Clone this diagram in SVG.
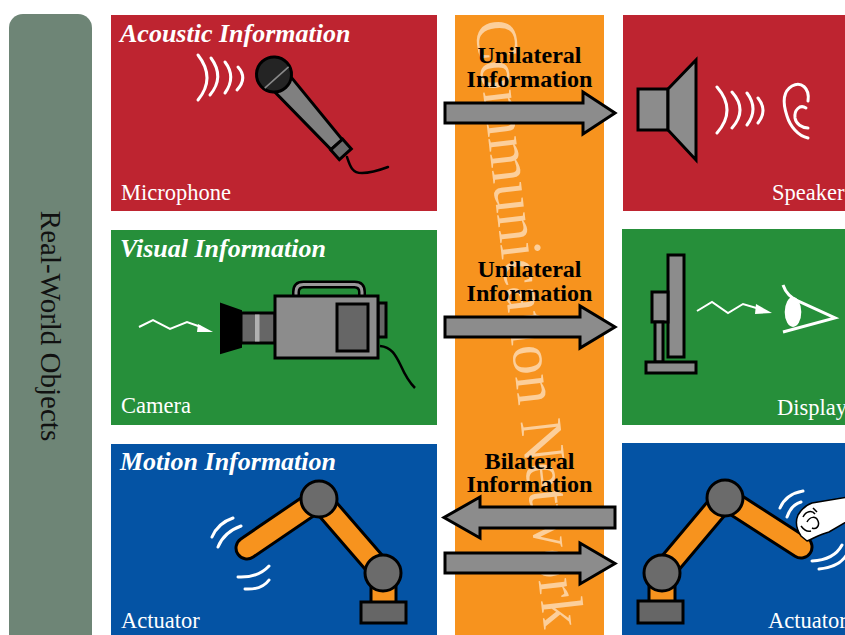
<svg xmlns="http://www.w3.org/2000/svg" width="845" height="635" viewBox="0 0 845 635">
  <style>
    .title { font-family: "Liberation Serif", "Times New Roman", serif; font-size: 26px; font-weight: bold; font-style: italic; fill: #ffffff; }
    .name { font-family: "Liberation Serif", "Times New Roman", serif; font-size: 22.5px; fill: #ffffff; }
    .info { font-family: "Liberation Serif", "Times New Roman", serif; font-size: 23px; font-weight: bold; fill: #000000; text-anchor: middle; }
    .red { fill: #be2430; }
    .green { fill: #268f3a; }
    .blue { fill: #0453a4; }
    .part { stroke: #000000; stroke-width: 3; stroke-linejoin: miter; }
    .wave { fill: none; stroke: #ffffff; stroke-width: 3; stroke-linecap: round; }
    .arrow { fill: #8c8c8c; stroke: #000000; stroke-width: 3; stroke-linejoin: miter; }
    .joint { fill: #6b6b6b; stroke: #000000; stroke-width: 3; }
    .linkOut { stroke: #000000; stroke-width: 25; stroke-linecap: round; fill: none; }
    .linkIn { stroke: #f7931e; stroke-width: 19; stroke-linecap: round; fill: none; }
  </style>

  <rect width="845" height="635" fill="#ffffff"/>

  <!-- side bar -->
  <g id="real-world-objects">
    <rect x="9" y="14" width="83" height="640" rx="14" ry="14" fill="#6e8576"/>
    <text transform="translate(41,326) rotate(90)" text-anchor="middle" font-family="Liberation Serif, Times New Roman, serif" font-size="29" fill="#111111">Real-World Objects</text>
  </g>

  <!-- network column -->
  <g id="communication-network">
    <rect x="455" y="15" width="149" height="625" fill="#f7931e"/>
    <text transform="translate(475,22) rotate(83.5)" font-family="Liberation Serif, Times New Roman, serif" font-size="60" fill="#fccf9b">Communication Network</text>
  </g>

  <!-- microphone -->
  <g id="microphone">
    <rect x="111" y="15" width="326" height="196" class="red"/>
    <text x="120" y="42" class="title">Acoustic Information</text>
    <text x="121" y="200" class="name">Microphone</text>
    <path class="wave" d="M198,100 Q216,78 198,55 M210,95 Q225,77 211,58 M225,93 Q236.5,77 225,62 M237,90 Q248,78 238,67"/>
    <path d="M347,157 C350,166 352,173 362,173 C372,173 380,170 388,167" fill="none" stroke="#000000" stroke-width="2.5" stroke-linecap="round"/>
    <g transform="translate(274,74.5) rotate(48.2)">
      <polygon class="part" points="14,-11 94,-7.5 94,7.5 14,11" fill="#808080" stroke-width="2.5"/>
      <rect class="part" x="94" y="-8" width="13" height="16" fill="#6b6b6b" stroke-width="2.5"/>
      <circle class="part" cx="0" cy="0" r="17.5" fill="#242424" stroke-width="2.5"/>
      <line x1="4" y1="-16" x2="4" y2="16" stroke="#8a8a8a" stroke-width="1.5"/>
    </g>
  </g>

  <!-- speaker -->
  <g id="speaker">
    <rect x="623" y="15" width="230" height="196" class="red"/>
    <text x="772" y="200" class="name">Speaker</text>
    <rect class="part" x="638" y="89" width="30" height="41" fill="#8c8c8c"/>
    <polygon class="part" points="668,89 696,60 696,160 668,130" fill="#8c8c8c"/>
    <path class="wave" d="M717,133 Q737,110 717,87 M732,128 Q748,110 732,92 M747,125 Q759,109 747,93 M758,123 Q768,110.5 758,98"/>
    <path class="wave" d="M808,138 C798,136 790,126 787,116 C783,104 782,92 792,86 C801,81 810,88 808,101"/>
    <path class="wave" d="M806,108 C800,104 794,110 795,118 C796,124 802,128 808,128"/>
  </g>

  <!-- camera -->
  <g id="camera">
    <rect x="111" y="230" width="326" height="195" class="green"/>
    <text x="120" y="257" class="title">Visual Information</text>
    <text x="121" y="413" class="name">Camera</text>
    <polyline points="139,327 153,320 170,329 187,322 201,327" fill="none" stroke="#ffffff" stroke-width="2"/>
    <polygon points="198,324 197,332 213,332" fill="#ffffff"/>
    <path d="M380,346 C392,347 396,356 401,366 C405,375 409,382 415,388" fill="none" stroke="#000000" stroke-width="2.5"/>
    <path d="M296,297 V292 Q296,284.5 303.5,284.5 H354.5 Q362,284.5 362,292 V297" fill="none" stroke="#000000" stroke-width="8"/>
    <path d="M296,297 V292 Q296,284.5 303.5,284.5 H354.5 Q362,284.5 362,292 V297" fill="none" stroke="#9a9a9a" stroke-width="3"/>
    <polygon points="221,304 241,311 241,347 221,353" fill="#000000" stroke="#000000" stroke-width="2"/>
    <rect class="part" x="241" y="313" width="34" height="30" fill="#666666" stroke-width="2.5"/>
    <rect x="255" y="314.5" width="4.5" height="27" fill="#b0b0b0"/>
    <rect class="part" x="378" y="303" width="8" height="34" fill="#666666" stroke-width="2.5"/>
    <rect class="part" x="275" y="296" width="103" height="62" fill="#8c8c8c"/>
    <rect class="part" x="337" y="304" width="31" height="47" fill="#666666" stroke-width="2.5"/>
  </g>

  <!-- display -->
  <g id="display">
    <rect x="622" y="229" width="230" height="196" class="green"/>
    <text x="777" y="415" class="name">Display</text>
    <rect class="part" x="668" y="255" width="16" height="102" fill="#8c8c8c"/>
    <rect class="part" x="652" y="292" width="16" height="30" fill="#8c8c8c"/>
    <rect class="part" x="655" y="322" width="8" height="40" fill="#8c8c8c"/>
    <rect class="part" x="646" y="362" width="50" height="11" fill="#8c8c8c"/>
    <polyline points="697,311 712,302 728,313 743,304 758,308.5" fill="none" stroke="#ffffff" stroke-width="2"/>
    <polygon points="756,304 755,314 772,313" fill="#ffffff"/>
    <ellipse cx="793" cy="312" rx="8.3" ry="15" fill="#ffffff"/>
    <path d="M783,285 Q787,297 800,302 L835,318 L783,332" fill="none" stroke="#ffffff" stroke-width="3"/>
  </g>

  <!-- local actuator -->
  <g id="actuator-local">
    <rect x="111" y="444" width="326" height="196" class="blue"/>
    <text x="120" y="470" class="title">Motion Information</text>
    <text x="121" y="628" class="name">Actuator</text>
    <path class="wave" d="M212,537 Q218,523 233,518 M218,547 Q224,532 241,526 M238,577 Q258,578 269,566 M245,589 Q262,590 269,580"/>
    <rect class="part" x="371" y="575" width="25" height="28" fill="#f7931e"/>
    <rect class="part" x="361" y="602" width="45" height="21" fill="#666666"/>
    <path class="linkOut" d="M247,548 L319,499 L383,573"/>
    <path class="linkIn" d="M247,548 L319,499 L383,573"/>
    <circle class="joint" cx="319" cy="499" r="18"/>
    <circle class="joint" cx="383" cy="573" r="18"/>
  </g>

  <!-- remote actuator -->
  <g id="actuator-remote">
    <rect x="622" y="443" width="230" height="197" class="blue"/>
    <text x="768" y="628" class="name">Actuator</text>
    <rect class="part" x="649" y="575" width="26" height="28" fill="#f7931e"/>
    <rect class="part" x="638" y="601" width="45" height="22" fill="#666666"/>
    <path class="linkOut" d="M662,573 L725,498 L801,547"/>
    <path class="linkIn" d="M662,573 L725,498 L801,547"/>
    <circle class="joint" cx="725" cy="498" r="18"/>
    <circle class="joint" cx="662" cy="573" r="18"/>
    <path class="wave" d="M780,508 Q786,494 803,491 M787,517 Q791,505 801,502 M812,561 Q834,560 842,545 M819,569 Q840,567 847,554"/>
    <path d="M848,497 L812,503 C806,505 801,510 798,515 C795,522 797,530 801,536 L807,541 C814,538 821,534 829,532 L848,521 Z" fill="#ffffff" stroke="#000000" stroke-width="1.5"/>
    <path d="M803,517 C806,511 812,510 815,514 M807,522 C810,516 816,516 818,521 C820,526 816,530 812,528 M801,526 C804,530 808,532 811,531 M813,508 L817,512" fill="none" stroke="#000000" stroke-width="1.5"/>
  </g>

  <!-- connectors -->
  <g id="connectors">
    <polygon class="arrow" points="445,103 583,103 583,92 615,113 583,134 583,123 445,123"/>
    <polygon class="arrow" points="445,317 580,317 580,306 615,327 580,348 580,337 445,337"/>
    <polygon class="arrow" points="615,507 480,507 480,497 444,517.5 480,538 480,528 615,528"/>
    <polygon class="arrow" points="445,553 580,553 580,543 615,563.5 580,584 580,573 445,573"/>
    <text x="529.5" y="63" class="info" textLength="104" lengthAdjust="spacingAndGlyphs">Unilateral</text>
    <text x="529.5" y="87" class="info" textLength="126" lengthAdjust="spacingAndGlyphs">Information</text>
    <text x="529.5" y="277" class="info" textLength="104" lengthAdjust="spacingAndGlyphs">Unilateral</text>
    <text x="529.5" y="301" class="info" textLength="126" lengthAdjust="spacingAndGlyphs">Information</text>
    <text x="529.5" y="469" class="info" textLength="90" lengthAdjust="spacingAndGlyphs">Bilateral</text>
    <text x="529.5" y="492" class="info" textLength="126" lengthAdjust="spacingAndGlyphs">Information</text>
  </g>
</svg>
